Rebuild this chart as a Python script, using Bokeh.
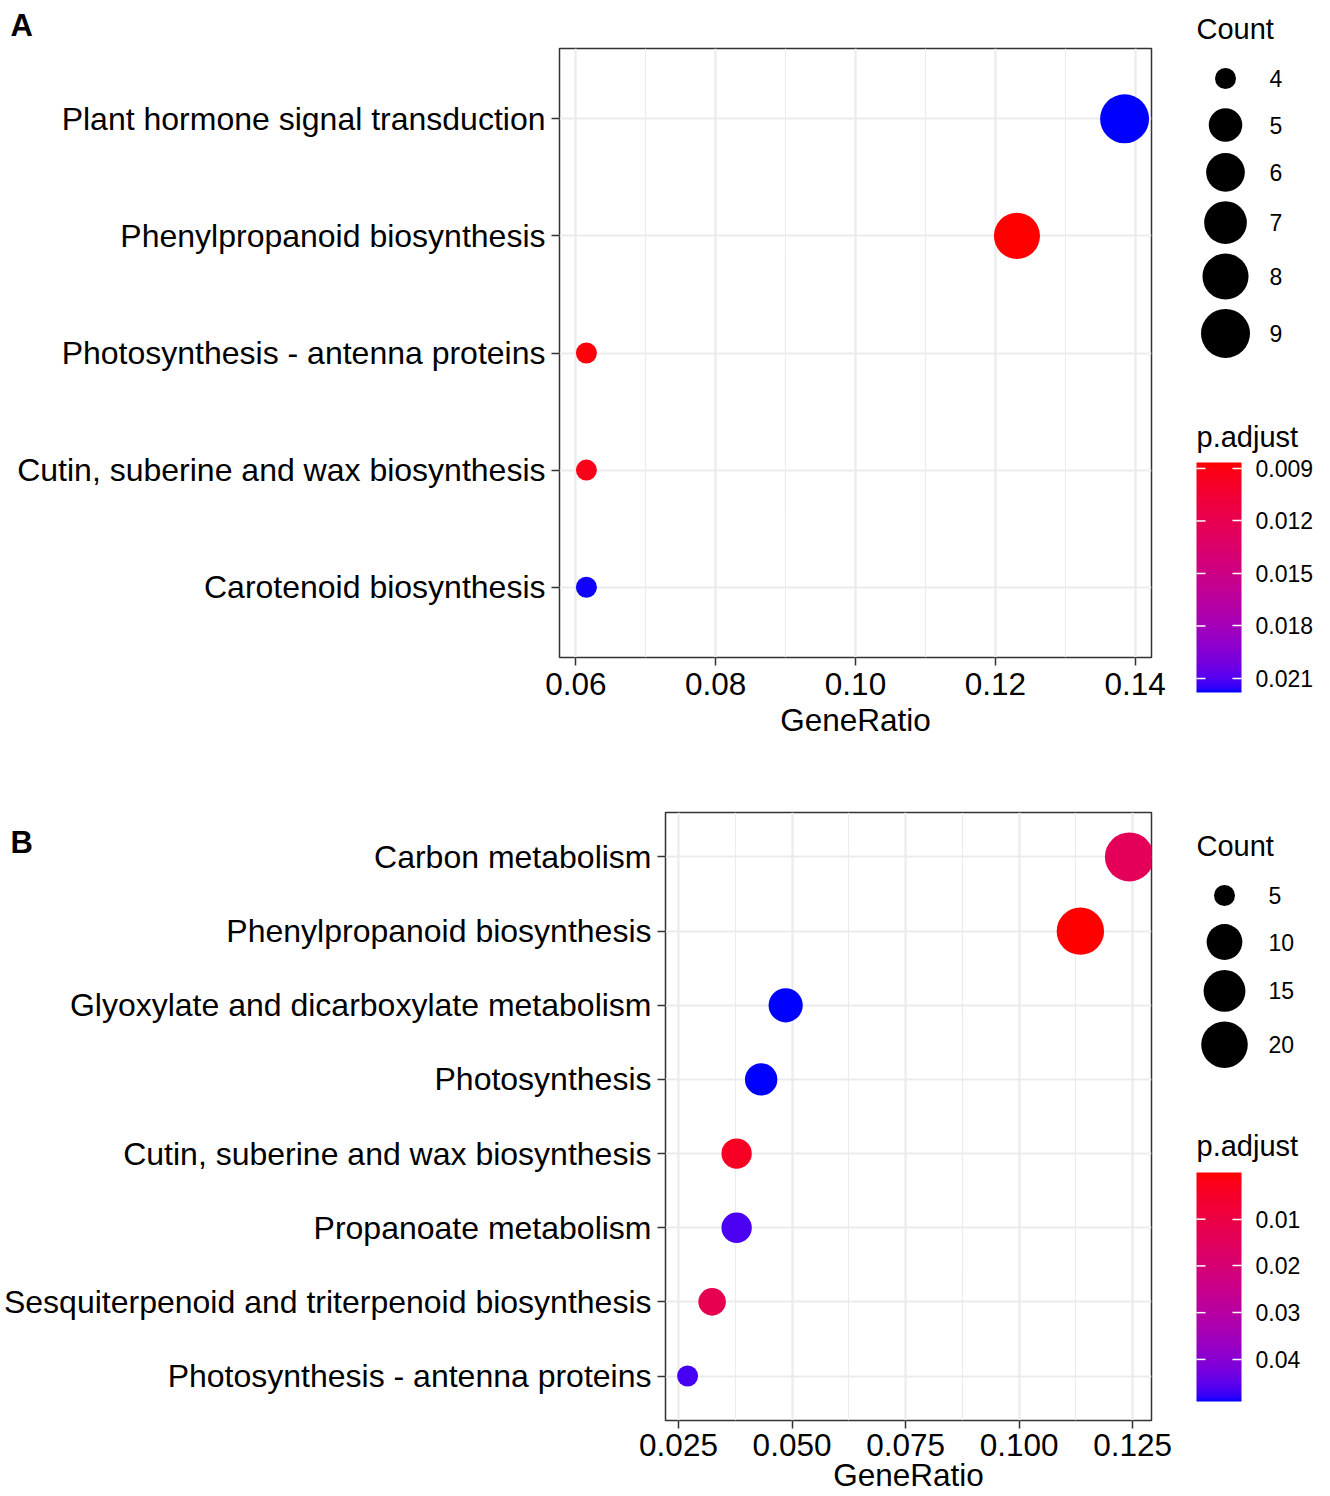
import math
from bokeh.plotting import figure
from bokeh.models import (Range1d, FixedTicker, ColumnDataSource, LinearColorMapper,
                          ColorBar, Label, PrintfTickFormatter, Title)
from bokeh.layouts import row, column
from bokeh.embed import file_html
from bokeh.resources import INLINE
from bokeh.core.properties import value

# ---------------- data: panel A ----------------
a_terms = ["Plant hormone signal transduction", "Phenylpropanoid biosynthesis",
           "Photosynthesis - antenna proteins", "Cutin, suberine and wax biosynthesis",
           "Carotenoid biosynthesis"]
a_ratio = [0.1385, 0.1231, 0.0615, 0.0615, 0.0615]
a_count = [9, 8, 4, 4, 4]
a_padj = [0.0218, 0.00866, 0.0089, 0.0093, 0.0217]
a_xticks = [0.06, 0.08, 0.10, 0.12, 0.14]
a_size_breaks = [4, 5, 6, 7, 8, 9]
a_color_ticks = [0.009, 0.012, 0.015, 0.018, 0.021]

# ---------------- data: panel B ----------------
b_terms = ["Carbon metabolism", "Phenylpropanoid biosynthesis",
           "Glyoxylate and dicarboxylate metabolism", "Photosynthesis",
           "Cutin, suberine and wax biosynthesis", "Propanoate metabolism",
           "Sesquiterpenoid and triterpenoid biosynthesis", "Photosynthesis - antenna proteins"]
b_ratio = [0.1243, 0.1135, 0.0486, 0.0432, 0.0378, 0.0378, 0.0324, 0.0270]
b_count = [23, 21, 9, 8, 7, 7, 6, 5]
b_padj = [0.0140, 0.00002, 0.0490, 0.0489, 0.0040, 0.0465, 0.0128, 0.0468]
b_xticks = [0.025, 0.050, 0.075, 0.100, 0.125]
b_size_breaks = [5, 10, 15, 20]
b_color_ticks = [0.01, 0.02, 0.03, 0.04]

FONT = "Liberation Sans"
LOW_COL, HIGH_COL = "#ff0000", "#0000ff"


# ---------------- Lab gradient (like ggplot's seq_gradient_pal) ----------------
def _lin(c):
    c /= 255.0
    return c / 12.92 if c <= 0.04045 else ((c + 0.055) / 1.055) ** 2.4


def _f(t):
    return t ** (1 / 3) if t > 0.008856 else 7.787 * t + 16 / 116


def to_lab(h):
    r, g, b = [_lin(int(h[i:i + 2], 16)) for i in (1, 3, 5)]
    X = 0.4124 * r + 0.3576 * g + 0.1805 * b
    Y = 0.2126 * r + 0.7152 * g + 0.0722 * b
    Z = 0.0193 * r + 0.1192 * g + 0.9505 * b
    fx, fy, fz = _f(X / 0.95047), _f(Y), _f(Z / 1.08883)
    return 116 * fy - 16, 500 * (fx - fy), 200 * (fy - fz)


def from_lab(L, a, b):
    fy = (L + 16) / 116
    fx = fy + a / 500
    fz = fy - b / 200

    def inv(t):
        return t ** 3 if t ** 3 > 0.008856 else (t - 16 / 116) / 7.787

    X, Y, Z = 0.95047 * inv(fx), inv(fy), 1.08883 * inv(fz)
    r = 3.2406 * X - 1.5372 * Y - 0.4986 * Z
    g = -0.9689 * X + 1.8758 * Y + 0.0415 * Z
    bb = 0.0557 * X - 0.2040 * Y + 1.0570 * Z

    def gam(c):
        c = min(max(c, 0.0), 1.0)
        return 12.92 * c if c <= 0.0031308 else 1.055 * c ** (1 / 2.4) - 0.055

    return "#%02x%02x%02x" % tuple(int(round(gam(c) * 255)) for c in (r, g, bb))


def lab_palette(c_from, c_to, n=256):
    l1, l2 = to_lab(c_from), to_lab(c_to)
    out = []
    for k in range(n):
        t = k / (n - 1)
        out.append(from_lab(*[l1[i] + (l2[i] - l1[i]) * t for i in range(3)]))
    return out


# palette index 0 = high p (blue) ... last = low p (red); mapper low=max, high=min
PAL = lab_palette(HIGH_COL, LOW_COL)


def dot_size(c, cmin, cmax):
    s = 3 + 5 * math.sqrt((c - cmin) / (cmax - cmin))
    return 5.6 * s + 4.2


def make_panel(terms, ratio, count, padj, xticks, xfmt, mapper, width, height,
               bl, br, bt, bb, tick_standoff, label_standoff, letter, letter_standoff):
    n = len(terms)
    ypos = [n - i for i in range(n)]
    span = max(ratio) - min(ratio)
    x0, x1 = min(ratio) - 0.05 * span, max(ratio) + 0.05 * span
    y0, y1 = 0.4, n + 0.6
    p = figure(width=width, height=height, x_range=Range1d(x0, x1), y_range=Range1d(y0, y1),
               output_backend="svg", toolbar_location=None,
               min_border_left=bl, min_border_right=br, min_border_top=bt,
               min_border_bottom=bb)
    p.background_fill_color = "white"
    p.border_fill_color = "white"
    p.outline_line_color = "#333333"
    p.outline_line_width = 1.5

    cmin, cmax = min(count), max(count)
    src = ColumnDataSource(dict(x=ratio, y=ypos, p=padj,
                                size=[dot_size(c, cmin, cmax) for c in count]))
    p.scatter("x", "y", size="size", source=src, line_color=None,
              fill_color={"field": "p", "transform": mapper})

    minor = [(xticks[i] + xticks[i + 1]) / 2 for i in range(len(xticks) - 1)]
    p.xaxis.ticker = FixedTicker(ticks=xticks, minor_ticks=minor)
    p.xaxis.formatter = PrintfTickFormatter(format=xfmt)
    p.yaxis.ticker = FixedTicker(ticks=ypos)
    p.yaxis.major_label_overrides = {y: t for y, t in zip(ypos, terms)}

    for ax in (p.xaxis[0], p.yaxis[0]):
        ax.axis_line_color = None
        ax.major_tick_line_color = "#333333"
        ax.major_tick_line_width = 1.5
        ax.major_tick_out = 8
        ax.major_tick_in = 0
        ax.minor_tick_line_color = None
        ax.major_label_text_font = FONT
        ax.major_label_text_color = "black"
    p.yaxis.major_label_text_font_size = "32px"
    p.xaxis.major_label_text_font_size = "31.5px"
    p.yaxis.major_label_standoff = 6
    p.xaxis.major_label_standoff = tick_standoff
    p.xaxis.axis_label = "GeneRatio"
    p.xaxis.axis_label_text_font = FONT
    p.xaxis.axis_label_text_font_size = "31.5px"
    p.xaxis.axis_label_text_font_style = "normal"
    p.xaxis.axis_label_text_color = "black"
    p.xaxis.axis_label_standoff = label_standoff

    p.xgrid.grid_line_color = "#EBEBEB"
    p.xgrid.grid_line_width = 2.2
    p.xgrid.minor_grid_line_color = "#EBEBEB"
    p.xgrid.minor_grid_line_width = 1.1
    p.ygrid.grid_line_color = "#EBEBEB"
    p.ygrid.grid_line_width = 2.2

    # panel letter, drawn as the figure title, shifted to the far left
    try:
        t = Title(text=letter, align="left", offset=10 - bl, standoff=letter_standoff,
                  text_font=FONT, text_font_size="31px", text_font_style="bold",
                  text_color="black")
    except ValueError:
        t = Title(text=letter, align="left", offset=10 - bl, standoff=0,
                  text_font=FONT, text_font_size="31px", text_font_style="bold",
                  text_color="black")
    p.title = t
    return p


def make_legend(frame_top, frame_bot, title_y, key0_y, breaks, cmin, cmax, cx, lx,
                mapper, cticks, cfmt, ptitle_y, cb_top, cb_h, vtop, vbot, height):
    # this figure's frame is aligned by the row layout with the panel frame,
    # so its y range is set in the same pixel rows as that frame
    lf = figure(width=150, height=height, x_range=Range1d(1180, 1330),
                y_range=Range1d(frame_bot, frame_top), output_backend="svg",
                toolbar_location=None, x_axis_location=None, y_axis_location=None,
                min_border=0)
    lf.outline_line_color = None
    lf.grid.visible = False
    lf.background_fill_color = "white"
    lf.border_fill_color = "white"

    if title_y < frame_top:
        lf.title = Title(text="Count", align="left", offset=16,
                         standoff=8,
                         text_font=FONT, text_font_size="29px", text_font_style="normal",
                         text_color="black")
    else:
        lf.add_layout(Label(x=1196, y=title_y, text="Count", text_font=FONT,
                            text_font_size="29px", text_baseline="middle", text_align="left",
                            text_color="black"))
    sizes = [dot_size(b, cmin, cmax) for b in breaks]
    heights = [max(46.5, d + 9.5) for d in sizes]
    ys = [key0_y]
    for i in range(1, len(breaks)):
        ys.append(ys[-1] + (heights[i - 1] + heights[i]) / 2)
    lf.scatter(x=[cx] * len(breaks), y=ys, size=sizes, fill_color="black", line_color=None)
    lf.text(x=[lx] * len(breaks), y=ys, text=[str(b) for b in breaks],
            text_font=value(FONT), text_font_size="23px", text_baseline="middle",
            text_align="left", text_color="black")

    lf.add_layout(Label(x=1196, y=ptitle_y, text="p.adjust", text_font=FONT,
                        text_font_size="29px", text_baseline="middle", text_align="left",
                        text_color="black"))
    cb = ColorBar(color_mapper=mapper, ticker=FixedTicker(ticks=cticks),
                  formatter=PrintfTickFormatter(format=cfmt),
                  width=45, height=cb_h,
                  location=(16, frame_bot - (cb_top + cb_h)),
                  padding=0, margin=0,
                  major_label_text_font=FONT, major_label_text_font_size="23px",
                  major_label_text_color="black", label_standoff=14,
                  major_tick_line_color="white", major_tick_line_width=1.5,
                  major_tick_in=9, major_tick_out=0, minor_tick_line_color=None,
                  bar_line_color=None, border_line_color=None,
                  background_fill_color=None)
    lf.add_layout(cb)
    # ticks on the left edge of the bar (ggplot draws both edges)
    tys = [cb_top + (v - vtop) / (vbot - vtop) * cb_h for v in cticks]
    lf.segment(x0=[1196] * len(cticks), x1=[1205] * len(cticks), y0=tys, y1=tys,
               line_color="white", line_width=1.5, level="overlay")
    return lf


map_a = LinearColorMapper(palette=PAL, low=max(a_padj), high=min(a_padj))
map_b = LinearColorMapper(palette=PAL, low=max(b_padj), high=min(b_padj))

HA, HB = 741, 755
pA = make_panel(a_terms, a_ratio, a_count, a_padj, a_xticks, "%.2f", map_a,
                1180, HA, 559, 29, 48, 84, 7, 4, "A", 11)
# "B" sits below the top of its frame: negative standoff
pB = make_panel(b_terms, b_ratio, b_count, b_padj, b_xticks, "%.3f", map_b,
                1180, HB, 665, 29, 71, 76, 5, -2, "B", -95)

lA = make_legend(48, 657, 28, 78, a_size_breaks, min(a_count), max(a_count), 1225, 1269,
                 map_a, a_color_ticks, "%.3f", 436, 462, 230, min(a_padj), max(a_padj), HA)
lB = make_legend(812, 1420, 845, 895, b_size_breaks, min(b_count), max(b_count), 1224, 1268,
                 map_b, b_color_ticks, "%.2f", 1145, 1172, 229, min(b_padj), max(b_padj), HB)

layout = column(row(pA, lA), row(pB, lB))
open("out.html", "w").write(file_html(layout, INLINE))
